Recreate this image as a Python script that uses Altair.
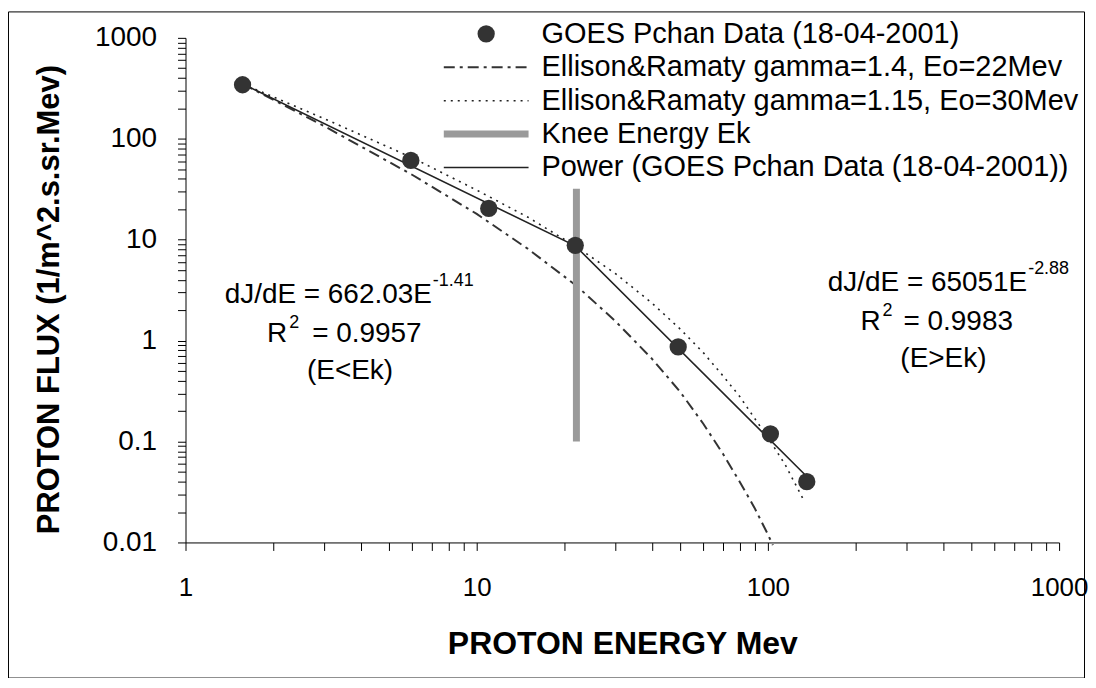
import altair as alt
import pandas as pd

# ---- data ----
goes_E = [1.57, 5.94, 11.0, 21.8, 49.2, 102, 136]
goes_F = [343, 61, 20.4, 8.8, 0.865, 0.119, 0.040]

# power-law fit (two straight pieces on log-log), read at ends and knee
fit_E = [1.57, 21.8, 136]
fit_F = [350, 8.7, 0.045]

# Ellison & Ramaty gamma=1.4, Eo=22
er1_E = [1.57, 3, 6, 10, 15, 22, 30, 40, 50, 60, 70, 80, 90, 100, 104]
er1_F = [350, 133, 44, 18, 8.1, 3.5, 1.55, 0.66, 0.31, 0.15, 0.076, 0.040, 0.022, 0.012, 0.0094]

# Ellison & Ramaty gamma=1.15, Eo=30
er2_E = [1.57, 3, 6, 10, 15, 22, 30, 40, 50, 60, 70, 80, 90, 100, 115, 133]
er2_F = [350, 158, 65, 31, 16.7, 8.5, 4.6, 2.35, 1.3, 0.76, 0.45, 0.28, 0.17, 0.11, 0.058, 0.026]

knee_E = [22]
knee_lo = [0.1]
knee_hi = [32]

x_major = [1, 10, 100, 1000]
x_minor = [2, 3, 4, 5, 6, 7, 8, 9, 20, 30, 40, 50, 60, 70, 80, 90,
           200, 300, 400, 500, 600, 700, 800, 900]
y_major = [0.01, 0.1, 1, 10, 100, 1000]
y_minor = [0.02, 0.03, 0.04, 0.05, 0.06, 0.07, 0.08, 0.09,
           0.2, 0.3, 0.4, 0.5, 0.6, 0.7, 0.8, 0.9,
           2, 3, 4, 5, 6, 7, 8, 9, 20, 30, 40, 50, 60, 70, 80, 90,
           200, 300, 400, 500, 600, 700, 800, 900]

legend_labels = [
    "GOES Pchan Data (18-04-2001)",
    "Ellison&Ramaty  gamma=1.4, Eo=22Mev",
    "Ellison&Ramaty gamma=1.15, Eo=30Mev",
    "Knee Energy Ek",
    "Power (GOES Pchan Data (18-04-2001))",
]

FONT = "Liberation Sans"
W, H = 876, 506
DARK = "#333333"

xscale = alt.Scale(type="log", domain=[1, 1000])
yscale = alt.Scale(type="log", domain=[0.01, 1000])

is_decade = "abs(log(datum.value)/LN10 - round(log(datum.value)/LN10)) < 1e-6"

common_axis = dict(grid=False, tickSize=8, domainColor="black", tickColor="black",
                   labelFlush=False, labelFont=FONT, labelColor="black",
                   titleFont=FONT, titleFontWeight="bold", titleColor="black",
                   labelExpr=f"{is_decade} ? datum.value + '' : ''")

xaxis = alt.Axis(values=x_major + x_minor, title="PROTON ENERGY Mev", labelPadding=24,
                 labelFontSize=26, titleFontSize=32,
                 titleY=101, titleBaseline="middle", **common_axis)
yaxis = alt.Axis(values=y_major + y_minor, title="PROTON FLUX (1/m^2.s.sr.Mev)", labelPadding=21,
                 labelFontSize=28, titleFontSize=31,
                 titleX=-136, titleY=262, titleAngle=270, titleAlign="center",
                 titleBaseline="middle", **common_axis)

df_goes = pd.DataFrame({"E": goes_E, "F": goes_F})
df_fit = pd.DataFrame({"E": fit_E, "F": fit_F})
df_er1 = pd.DataFrame({"E": er1_E, "F": er1_F})
df_er2 = pd.DataFrame({"E": er2_E, "F": er2_F})
df_knee = pd.DataFrame({"E": knee_E, "lo": knee_lo, "hi": knee_hi})

base_axes = alt.Chart(df_goes).mark_point(opacity=0).encode(
    x=alt.X("E:Q", scale=xscale, axis=xaxis),
    y=alt.Y("F:Q", scale=yscale, axis=yaxis),
)

er1 = alt.Chart(df_er1).mark_line(color=DARK, strokeWidth=2, strokeDash=[11, 5, 3, 5], clip=False).encode(
    x=alt.X("E:Q", scale=xscale), y=alt.Y("F:Q", scale=yscale), order="E:Q")
er2 = alt.Chart(df_er2).mark_line(color="#222222", strokeWidth=1.6, strokeDash=[2, 5]).encode(
    x=alt.X("E:Q", scale=xscale), y=alt.Y("F:Q", scale=yscale), order="E:Q")
fit = alt.Chart(df_fit).mark_line(color="#222222", strokeWidth=1.6).encode(
    x=alt.X("E:Q", scale=xscale), y=alt.Y("F:Q", scale=yscale), order="E:Q")
knee = alt.Chart(df_knee).mark_rule(color="#9a9a9a", strokeWidth=7).encode(
    x=alt.X("E:Q", scale=xscale), y=alt.Y("lo:Q", scale=yscale), y2="hi:Q")
pts = alt.Chart(df_goes).mark_circle(color=DARK, size=300, opacity=1).encode(
    x=alt.X("E:Q", scale=xscale), y=alt.Y("F:Q", scale=yscale))

one = pd.DataFrame({"a": [0]})

# outer frame
frame = alt.Chart(one).mark_rect(fill=None, stroke="black", strokeWidth=1, clip=False).encode(
    x=alt.value(-177.5), x2=alt.value(901.5), y=alt.value(-26), y2=alt.value(642))

# legend
LX0, LX1, LTX = 259, 344, 357
ROWS = [-4, 29.5, 63, 96.5, 130]
leg = []
leg.append(alt.Chart(one).mark_circle(color=DARK, size=300, opacity=1).encode(
    x=alt.value((LX0 + LX1) / 2), y=alt.value(ROWS[0])))
leg.append(alt.Chart(one).mark_rule(color=DARK, strokeWidth=2, strokeDash=[11, 5, 3, 5]).encode(
    x=alt.value(LX0), x2=alt.value(LX1), y=alt.value(ROWS[1])))
leg.append(alt.Chart(one).mark_rule(color="#222222", strokeWidth=1.6, strokeDash=[2, 5]).encode(
    x=alt.value(LX0), x2=alt.value(LX1), y=alt.value(ROWS[2])))
leg.append(alt.Chart(one).mark_rule(color="#9a9a9a", strokeWidth=7).encode(
    x=alt.value(LX0), x2=alt.value(LX1), y=alt.value(ROWS[3])))
leg.append(alt.Chart(one).mark_rule(color="#222222", strokeWidth=1.6).encode(
    x=alt.value(LX0), x2=alt.value(LX1), y=alt.value(ROWS[4])))
for lab, ry in zip(legend_labels, ROWS):
    leg.append(alt.Chart(one).mark_text(align="left", baseline="middle", font=FONT, fontSize=29,
                                        color="black").encode(
        x=alt.value(LTX), y=alt.value(ry), text=alt.value(lab)))


def txt(s, x, y, size=28, align="left"):
    return alt.Chart(one).mark_text(align=align, baseline="middle", font=FONT, fontSize=size,
                                    color="black").encode(x=alt.value(x), y=alt.value(y),
                                                          text=alt.value(s))


ann = [
    # left annotation
    txt("dJ/dE = 662.03E", 247, 258, align="right"),
    txt("-1.41", 248, 244, size=18),
    txt("R", 102, 297, align="right"),
    txt("2", 104, 286, size=18),
    txt("= 0.9957", 127, 297),
    txt("(E<Ek)", 165, 334, align="center"),
    # right annotation
    txt("dJ/dE = 65051E", 844, 246, align="right"),
    txt("-2.88", 845, 232, size=18),
    txt("R", 697, 285, align="right"),
    txt("2", 699, 274, size=18),
    txt("= 0.9983", 720, 285),
    txt("(E>Ek)", 760, 322, align="center"),
]

chart = alt.layer(base_axes, frame, er1, er2, fit, knee, pts, *leg, *ann).properties(
    width=W, height=H,
    autosize=alt.AutoSizeParams(type="none"),
    padding={"left": 178, "top": 29, "right": 29, "bottom": 135},
    background="white",
).configure_view(stroke=None)

chart.save("out.html", embed_options={"renderer": "svg", "actions": False})
